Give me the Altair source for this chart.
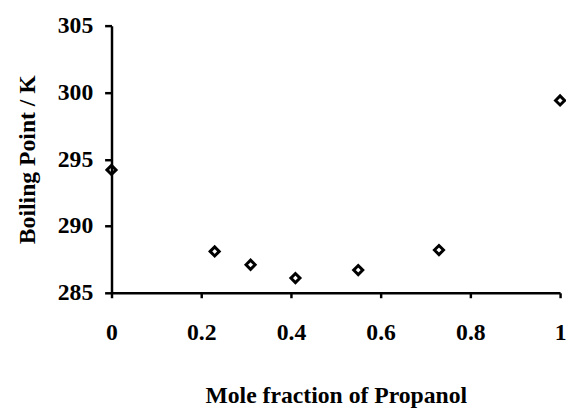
import altair as alt
import pandas as pd

mole_fraction = [0.0, 0.23, 0.31, 0.41, 0.55, 0.73, 1.0]
boiling_point = [294.2, 288.1, 287.1, 286.1, 286.7, 288.2, 299.4]

x_ticks = [0, 0.2, 0.4, 0.6, 0.8, 1.0]
y_ticks = [285, 290, 295, 300, 305]

df = pd.DataFrame({"x": mole_fraction, "y": boiling_point})

FONT = "Liberation Serif"

chart = alt.Chart(df).mark_point(
    shape="diamond", filled=False, color="black", strokeWidth=3, size=85, opacity=1
).encode(
    x=alt.X("x:Q",
            scale=alt.Scale(domain=[0, 1], nice=False, zero=False),
            axis=alt.Axis(values=x_ticks, format="~g", title="Mole fraction of Propanol",
                          grid=False, tickSize=5, labelPadding=23, titlePadding=40,
                          labelFlush=False)),
    y=alt.Y("y:Q",
            scale=alt.Scale(domain=[285, 305], nice=False, zero=False),
            axis=alt.Axis(values=y_ticks, title="Boiling Point / K",
                          grid=False, tickSize=7, labelPadding=12, titlePadding=18)),
).properties(
    width=455, height=271, autosize="none",
    padding={"left": 105, "top": 15, "right": 6, "bottom": 118},
).configure_axis(
    domainColor="black", domainWidth=2.5, tickColor="black", tickWidth=2.5,
    labelFont=FONT, labelFontSize=24, labelFontWeight="bold", labelColor="black",
    titleFont=FONT, titleFontSize=24, titleFontWeight="bold", titleColor="black",
).configure_view(stroke=None)

chart.save("out.html", embed_options={"renderer": "svg", "actions": False})
